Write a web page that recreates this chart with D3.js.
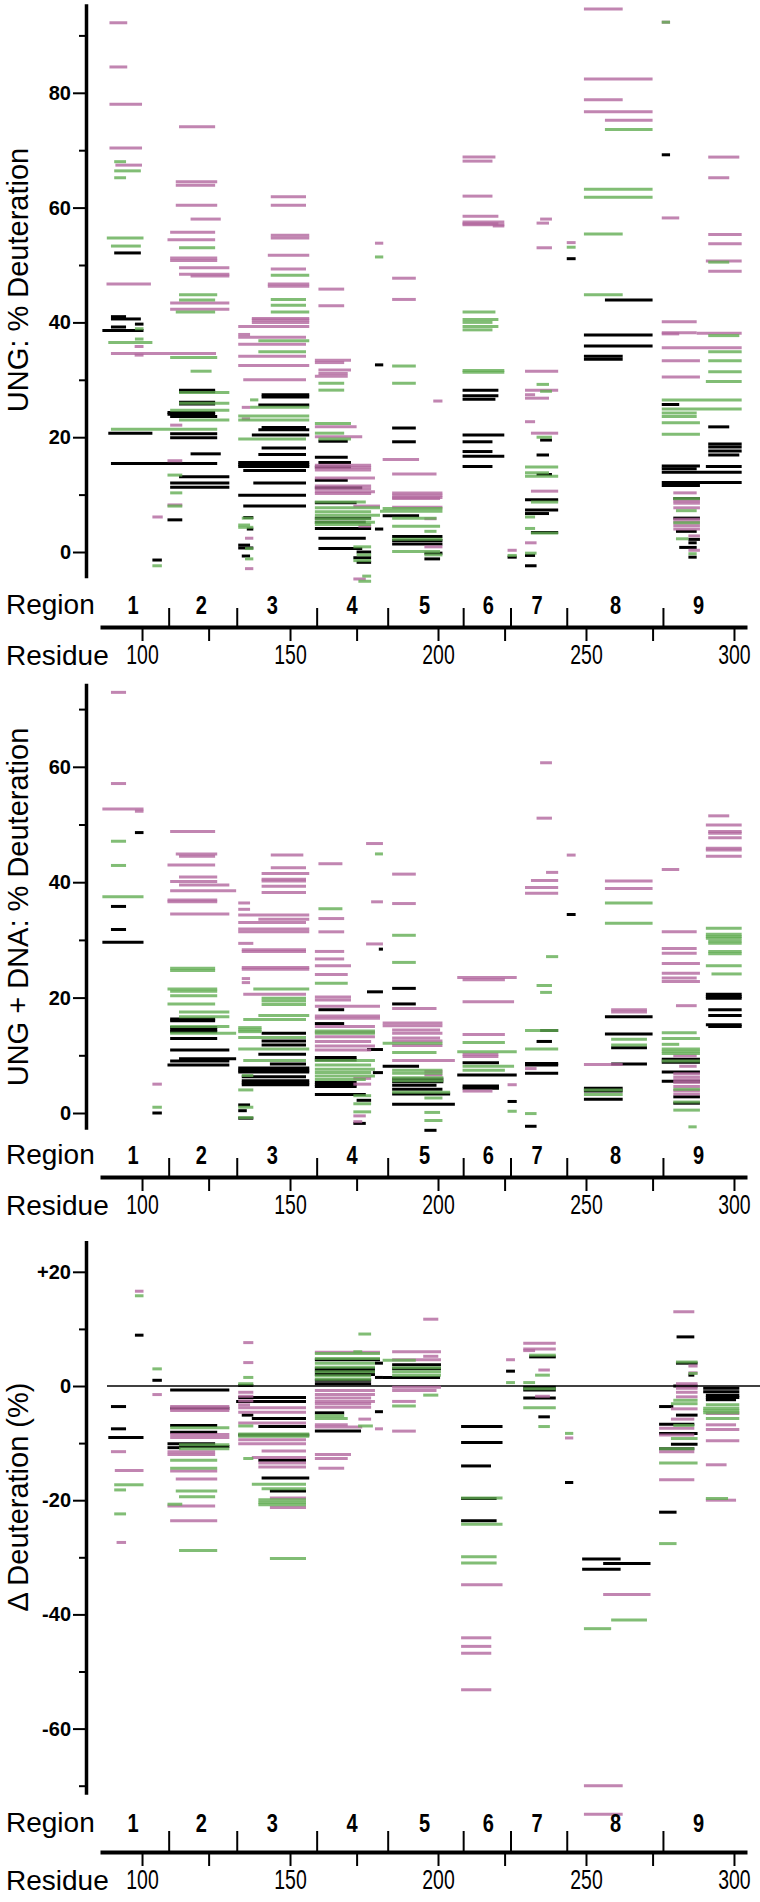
<!DOCTYPE html>
<html><head><meta charset="utf-8">
<script src="https://cdn.jsdelivr.net/npm/d3@7"></script>
<style>body{margin:0;background:#fff}</style>
</head><body>
<svg id="c" width="760" height="1902" xmlns="http://www.w3.org/2000/svg"></svg>
<script>
// ---------- data ----------
const regionNames = ["1","2","3","4","5","6","7","8","9"];
const regionLabelPos = [97,120,144,171,195.5,217,233.5,260,288];
const regionBounds = [109,132,159,183,208.5,224.5,243.5,276];
const residueMajor = [100,150,200,250,300];
const residueMinor = [122.5,172.5,222.5,272.5];

const ungYMajor = [0,20,40,60,80];
const ungYMinor = [10,30,50,70,90];
const dnaYMajor = [0,20,40,60];
const dnaYMinor = [10,30,50,70];
const diffYMajor = [20,0,-20,-40,-60];
const diffYMinor = [10,-10,-30,-50,-70];
const diffYLabels = ["+20","0","-20","-40","-60"];

// [start residue, end residue, value]
const ungPink = [
[89,95,92.2],[89,95,84.5],[89,100,78],[89,100,70.4],[91,100,67.4],[88,103,46.7],[89.5,125,34.6],[97.5,100.5,35.8],[97.5,100.5,34.3],[103.5,107,6.1],
[112.5,124.7,74.1],[111.4,125.4,64.5],[111.4,124.7,63.9],[111.4,125.4,60.4],[116.4,126.6,58],[109.5,124.7,55.7],[108.6,124.7,54.4],[109.5,125.4,51.2],[109.5,125.4,50.8],[112.5,129.5,49.5],[112.5,129.5,48.4],[116.4,129.5,48.1],[109.5,129.5,43.4],[109.5,129.5,42.3],[109.5,113.6,22.1],[108.6,113.6,15.9],[108.6,113.6,8.2],
[143.5,155.4,61.9],[143.5,155.4,60.4],[143.5,156.5,55.2],[143.5,156.5,54.7],[142.5,156.5,51.7],[143.5,155.4,49.3],[142.5,156.5,46.7],[142.5,156.5,46.3],[137.1,156.5,40.7],[137.1,156.5,40.4],[137.1,156.5,40.0],[132.5,156.5,39.3],[132.5,136.5,37.9],[132.5,155.4,37.4],[132.5,155.4,36.2],[132.5,155.4,34.1],[132.5,156.5,32.5],[134.2,155.4,30.0],[133.7,136.5,25.2],[133.7,136.5,23.2],[134.8,137.6,2.4],[134.8,137.6,-2.9],
[159.6,168.3,45.8],[159.6,168.3,42.9],[178.7,181.5,53.8],[158.4,170.6,33.4],[158.4,168.3,33.0],[159.6,170.6,31.7],[159.6,169.5,31.1],[158.4,169.5,30.6],[158.4,172.5,21.8],[158.4,174.4,20.1],[158.4,177.4,15.1],[158.4,177.4,14.7],[158.4,177.4,14.3],[158.4,178.7,12.9],[158.4,177.4,11.5],[158.4,177.4,11.0],[158.4,178.7,10.5],[158.4,177.4,10.2],[171.4,180.4,8.0],[173.1,177.4,4.5],[171.4,175.6,-4.7],
[184.5,192.5,47.7],[184.5,192.5,44.0],[198.4,201.5,26.3],[181.3,193.6,16.1],[184.5,199.5,13.6],[184.5,201.5,10.3],[184.5,201.5,9.9],[184.5,201.5,9.5],[184.5,200.7,9.3],[184.5,201.5,7.8],[195.4,199.5,5.8],[195.4,201.5,0.9],
[208.3,219.4,68.8],[208.3,218.4,68.1],[208.3,218.4,62.0],[208.3,220.4,58.5],[208.3,222.4,57.5],[208.3,220.4,57.2],[208.3,222.4,57.0],[218.5,222.4,56.8],[223.5,226.6,0.3],
[234.5,238.5,58.0],[233.3,237.5,57.3],[233.3,238.5,53.0],[243.5,246.5,53.9],[229.4,240.6,31.5],[229.4,240.6,28.2],[229.4,232.8,27.4],[229.4,237.5,26.8],[229.4,232.8,22.7],[231.4,240.6,20.7],[231.4,240.6,10.6],[229.4,233.3,1.6],
[249.3,262.4,94.6],[249.3,272.5,82.4],[249.3,262.4,78.8],[249.3,272.5,76.7],[256.4,272.5,75.2],
[275.6,278.4,92.3],[275.6,281.5,58.2],[291.3,301.8,68.8],[291.3,298.4,65.2],[291.3,302.6,55.3],[291.3,302.6,53.7],[290.5,302.6,50.7],[291.3,302.6,48.9],[275.6,287.4,40.1],[275.6,287.4,38.2],[275.6,281.5,38.0],[287.4,302.6,38.1],[275.6,302.6,35.6],[275.6,288.5,33.3],[275.6,288.5,30.5],[279.5,287.4,10.3],[279.5,288.5,8.9],[279.5,288.5,8.5],[279.5,288.5,7.7],[279.5,288.5,5.7],[279.5,288.5,5.2],[279.5,288.5,4.6],[279.5,288.5,4.0],[284.6,288.5,2.8],[284.6,288.5,0.3]
];
const ungGreen = [
[90.6,94.6,68.0],[90.6,99.6,66.4],[90.6,94.6,65.2],[88.1,100.5,54.7],[89.5,99.6,53.3],[97.6,100.5,38.9],[97.6,100.5,37.1],[88.6,103.5,36.5],[89.5,125.4,21.4],[103.5,106.7,-2.4],
[112.5,124.7,53.0],[112.5,125.4,44.8],[112.5,124.7,43.9],[111.4,124.7,41.8],[109.5,125.4,33.9],[116.4,123.5,31.5],[112.5,129.5,27.8],[112.5,129.5,25.9],[109.5,129.5,24.7],[112.5,129.5,23.0],[108.6,113.6,13.4],[109.5,113.6,10.3],[108.6,113.6,8.0],
[143.5,156.5,48.2],[143.5,155.4,44.0],[143.5,155.4,43.0],[143.5,156.5,41.8],[139.3,156.5,36.8],[139.3,155.4,34.9],[136.5,139.3,26.5],[136.5,156.5,25.2],[132.5,156.5,23.7],[132.5,156.5,23.0],[132.5,155.4,19.7],[133.7,137.6,5.9],[132.5,136.5,4.7],[132.5,137.6,4.3],[134.8,137.6,0.6],[134.8,137.6,-1.2],
[178.7,181.5,51.4],[159.6,168.3,29.4],[159.6,168.3,28.2],[158.4,170.6,22.4],[158.4,168.3,20.7],[159.6,170.6,19.7],[158.4,175.6,8.7],[158.4,180.4,7.7],[158.4,177.4,7.0],[158.4,180.4,6.4],[158.4,177.4,5.8],[158.4,178.7,5.2],[158.4,177.4,4.8],[171.4,177.4,0.9],[172.5,177.4,-0.5],[171.4,177.4,-1.5],[174.4,177.4,-4.2],[173.1,177.4,-5.1],
[184.5,192.5,32.4],[184.5,192.5,29.4],[181.3,201.5,7.6],[180.4,201.5,7.1],[184.5,199.5,5.9],[184.5,200.7,4.5],[195.4,199.5,3.6],[184.5,201.5,2.2],[184.5,200.7,0.1],[195.4,201.5,-0.5],
[208.3,219.4,41.8],[208.3,220.4,40.5],[208.3,218.4,40.0],[208.3,220.4,39.3],[208.3,218.4,38.7],[208.3,222.4,31.6],[208.3,222.4,31.3],[223.5,226.6,-0.6],
[233.3,237.5,29.2],[234.5,238.5,28.0],[233.3,238.5,20.0],[229.4,240.6,14.8],[229.4,237.5,13.8],[229.4,240.6,13.2],[231.4,240.6,8.7],[229.4,232.8,6.1],[229.4,232.8,4.1],[231.4,240.6,3.3],[229.4,233.3,-0.2],[243.5,246.5,53.1],
[256.4,272.5,73.6],[249.3,272.5,63.2],[249.3,272.5,61.8],[249.3,262.4,55.4],[249.3,262.4,44.8],
[275.6,278.4,92.3],[291.3,298.4,50.5],[291.3,301.8,37.7],[291.3,302.6,34.9],[291.3,302.6,33.3],[291.3,302.6,31.4],[290.5,302.6,29.7],[275.6,302.6,26.5],[275.6,302.6,24.9],[275.6,287.4,24.2],[275.6,287.4,23.6],[275.6,288.5,22.5],[275.6,288.5,20.5],[280.4,287.4,7.2],[279.5,288.5,5.1],[280.4,284.6,2.3],[284.6,287.4,-0.3],[279.5,288.5,9.3]
];
const ungBlack = [
[90.6,99.6,52.1],[89.5,94.6,41.0],[89.5,99.6,40.6],[89.5,94.6,39.2],[97.6,100.5,39.7],[86.6,100.5,38.6],[88.6,103.5,20.7],[89.5,125.4,15.4],[103.5,106.7,-1.4],
[112.5,124.7,28.2],[112.5,124.7,27.9],[112.5,124.7,26.1],[112.5,124.7,25.8],[108.6,124.7,24.3],[108.6,124.7,24.0],[109.5,125.4,23.6],[109.5,125.4,20.6],[109.5,125.4,19.9],[116.4,126.6,17.1],[112.5,129.5,13.1],[109.5,129.5,12.0],[109.5,129.5,11.3],[108.6,113.6,5.6],
[140.4,156.5,27.4],[140.4,156.5,27.0],[139.3,156.5,25.6],[140.4,155.4,21.7],[139.3,156.5,21.3],[137.1,156.5,20.4],[140.4,155.4,18.1],[139.3,155.4,17.0],[132.5,156.5,15.6],[132.5,156.5,15.2],[132.5,156.5,14.9],[134.2,155.4,14.2],[137.6,155.4,12.0],[132.5,155.4,9.9],[134.2,155.4,8.0],[134.2,137.6,6.0],[135.4,137.6,4.0],[132.5,136.5,1.2],[132.5,137.6,0.7],[133.7,136.5,-0.7],
[159.6,169.5,19.3],[158.4,169.5,16.5],[159.6,170.6,15.6],[158.4,170.6,14.8],[158.4,169.5,12.5],[158.4,174.4,11.2],[158.4,172.5,8.6],[158.4,177.4,5.9],[158.4,175.6,5.2],[158.4,177.4,4.1],[159.6,175.6,2.4],[159.6,174.4,0.6],[172.5,177.4,0.0],[171.4,177.4,-1.0],[172.5,177.4,-1.8],[178.7,181.5,32.6],[178.7,181.5,4.0],
[184.5,192.5,21.6],[184.5,192.5,19.2],[181.3,193.6,6.3],[184.5,201.5,2.7],[184.5,201.5,2.0],[184.5,201.5,1.4],[195.4,201.5,-0.2],[195.4,200.7,-1.2],
[208.3,220.4,28.2],[208.3,220.4,27.2],[208.3,219.4,26.6],[208.3,222.4,20.4],[208.3,218.4,19.2],[208.3,218.4,17.5],[208.3,222.4,16.7],[208.3,218.4,14.9],[223.5,226.6,-0.9],
[234.5,238.5,19.5],[233.3,237.5,16.9],[233.3,238.5,13.5],[229.4,240.6,9.1],[229.4,240.6,7.3],[229.4,237.5,6.7],[231.4,240.6,3.4],[229.4,232.8,-0.6],[229.4,233.3,-2.4],[243.5,246.5,51.1],
[256.4,272.5,43.9],[249.3,272.5,37.8],[249.3,272.5,35.9],[249.3,262.4,34.1],[249.3,262.4,33.6],
[275.6,278.4,69.2],[275.6,281.5,25.7],[291.3,298.4,21.8],[291.3,302.6,18.8],[291.3,302.6,18.3],[291.3,302.6,17.6],[291.3,301.8,16.9],[275.6,288.5,15.0],[290.5,302.6,14.9],[275.6,287.4,14.5],[275.6,302.6,13.9],[275.6,302.6,12.1],[275.6,288.5,11.6],[279.5,288.5,9.3],[279.5,288.5,5.9],[280.4,287.4,3.6],[284.6,288.5,2.2],[284.6,287.4,1.6],[281.5,287.4,0.8],[284.6,287.4,-0.9]
];

const dnaPink = [
[89.5,94.6,72.9],[89.5,94.6,57.1],[86.6,100.5,52.7],[97.6,100.5,52.3],[103.5,106.7,5.0],
[109.5,124.7,48.8],[111.4,125.4,44.9],[112.5,124.7,44.5],[108.6,124.7,43.0],[112.5,125.4,40.9],[109.5,125.4,40.1],[112.5,129.5,39.5],[109.5,131.8,38.5],[108.6,125.4,36.9],[108.6,125.4,36.6],[109.5,129.5,34.5],
[143.5,154.5,44.7],[143.5,155.4,42.5],[140.4,156.5,41.5],[140.4,155.4,40.5],[140.4,155.4,40.2],[140.4,155.4,39.3],[140.4,155.4,38.2],[132.5,136.5,36.4],[132.5,136.5,35.3],[132.5,156.5,34.3],[139.3,156.5,33.6],[132.5,155.4,33.0],[132.5,156.5,31.9],[132.5,156.5,31.4],[132.5,137.6,29.4],[133.7,155.4,28.3],[133.7,155.4,28.0],[133.7,156.5,25.2],[133.7,156.5,24.9],[133.7,136.5,23.3],[133.7,136.5,22.6],[134.2,155.4,20.6],
[159.6,167.7,43.2],[159.6,168.3,33.7],[159.6,168.3,31.4],[158.4,168.3,28.0],[158.4,168.3,26.7],[158.4,170.6,25.5],[158.4,169.5,24.0],[158.4,170.6,20.1],[158.4,170.6,19.6],[158.4,180.4,18.5],[158.4,180.4,16.8],[158.4,180.4,16.4],[158.4,178.7,15.0],[158.4,178.7,14.0],[158.4,178.7,13.2],[158.4,177.4,12.4],[158.4,178.7,11.6],[158.4,177.4,10.9],[175.7,181.4,46.7],[177.4,181.4,36.6],[175.7,181.4,29.3],[171.4,177.4,6.0],[171.4,177.4,5.0],[171.4,175.6,-0.5],[171.4,174.4,-1.5],
[184.5,192.5,41.4],[184.5,192.5,36.3],[184.5,199.5,18.1],[181.3,201.5,15.6],[181.3,201.5,15.1],[184.5,200.7,14.4],[184.5,201.5,13.8],[184.5,200.7,13.0],[184.5,201.5,12.5],[184.5,201.5,11.7],[184.5,205.7,9.1],[195.4,201.5,7.2],[195.4,201.5,6.6],
[206.5,226.6,23.5],[208.3,222.6,23.1],[208.3,225.7,19.3],[208.3,222.6,13.6],[208.3,220.4,10.2],[208.3,220.4,9.8],[208.3,218.4,3.8],[223.5,226.6,4.9],
[234.5,238.5,60.7],[233.3,238.5,51.1],[236.5,240.6,41.7],[231.4,240.6,40.3],[229.4,240.6,39.1],[229.4,240.6,38.1],[229.4,233.3,7.7],[243.5,246.5,44.7],
[256.4,272.5,40.2],[256.4,272.5,38.9],[258.5,270.6,17.9],[258.5,270.6,17.5],[249.3,262.4,8.4],
[275.6,281.5,42.2],[275.6,287.4,31.4],[275.6,287.4,28.5],[275.6,287.4,27.7],[275.6,288.5,25.9],[275.6,288.5,24.2],[275.6,287.4,23.4],[275.6,288.5,22.8],[280.4,287.4,18.6],[279.5,287.4,9.9],[281.5,287.4,8.1],[279.5,288.5,6.8],[279.5,288.5,6.2],[279.5,288.5,5.7],[279.5,288.5,5.3],[279.5,288.5,4.6],[279.5,288.5,3.9],[279.5,288.5,3.3],
[291.3,298.4,51.5],[290.5,302.6,49.9],[291.3,302.6,48.8],[291.3,302.6,48.5],[291.3,302.6,47.7],[290.5,302.6,45.9],[290.5,302.6,45.6],[290.5,302.6,44.5]
];
const dnaGreen = [
[89.5,94.6,47.1],[89.5,94.6,42.9],[86.6,100.5,37.5],[103.5,106.7,1.0],
[109.5,124.7,25.1],[109.5,124.7,24.7],[108.6,125.4,21.5],[109.5,125.4,21.1],[109.5,125.4,20.3],[108.6,124.7,18.9],[112.5,129.5,17.5],[112.5,129.5,16.7],[109.5,129.5,15.0],[109.5,131.8,13.8],
[137.6,156.5,21.5],[140.4,155.4,19.9],[140.4,155.4,19.4],[140.4,155.4,18.8],[139.3,156.5,16.9],[134.2,155.4,16.2],[132.5,140.4,14.8],[132.5,140.4,14.4],[132.5,140.4,14.1],[132.5,155.4,13.1],[132.5,156.5,11.1],[134.2,155.4,9.1],[133.7,137.6,6.5],[132.5,137.6,4.0],[132.5,137.6,1.0],[132.5,137.6,-0.8],
[158.4,169.5,22.5],[158.4,178.7,14.2],[158.4,178.7,13.8],[158.4,178.7,9.1],[158.4,177.4,8.3],[158.4,178.7,7.6],[158.4,177.4,7.0],[158.4,178.7,6.4],[158.4,175.6,5.8],[159.6,167.7,35.4],[178.7,181.4,44.9],[171.4,177.4,3.0],[171.4,177.4,1.6],[171.4,177.4,0.2],
[184.5,192.5,30.8],[184.5,192.5,26.1],[181.3,201.5,12.1],[184.5,199.5,10.5],[184.5,201.5,7.4],[184.5,201.5,6.9],[184.5,201.8,6.1],[184.5,201.8,5.6],[184.5,204.1,3.6],[195.4,201.5,2.6],[195.4,200.7,0.1],[195.4,201.5,-1.3],
[208.3,222.6,12.2],[206.5,226.6,10.6],[208.3,225.7,8.1],[208.3,222.6,7.4],[223.5,226.6,0.3],
[236.5,240.6,27.1],[233.3,238.5,22.1],[234.5,238.5,20.9],[229.4,240.6,14.3],[229.4,240.6,11.1],[229.4,233.3,-0.1],
[256.4,272.5,36.4],[256.4,272.5,32.9],[258.5,270.6,12.8],[258.5,270.6,11.8],[249.3,262.4,3.2],[249.3,262.4,4.0],
[275.6,287.4,13.9],[275.6,288.5,12.9],[275.6,281.5,11.9],[275.6,288.5,11.1],[275.6,288.5,10.7],[275.6,288.5,10.3],[275.6,288.5,9.0],[279.5,288.5,4.1],[279.5,288.5,1.9],[279.5,288.5,0.5],[284.6,287.4,-2.4],
[290.5,302.6,32.0],[290.5,302.6,31.0],[290.5,302.6,30.6],[290.5,302.6,30.3],[291.3,302.6,29.8],[291.3,302.6,29.4],[291.3,302.6,28.0],[291.3,302.6,27.6],[290.5,302.6,25.5],[292.4,302.6,24.1]
];
const dnaBlack = [
[97.6,100.5,48.6],[89.5,94.6,35.8],[89.5,94.6,31.8],[86.6,100.5,29.6],[103.5,106.7,0.0],
[109.5,124.7,16.3],[109.5,124.7,16.0],[109.5,125.4,14.8],[109.5,125.4,14.4],[109.5,125.4,14.1],[109.5,125.4,12.9],[109.5,129.5,10.9],[112.5,131.8,9.4],[109.5,129.5,9.0],[108.6,129.5,8.3],
[140.4,155.4,13.8],[140.4,155.4,12.5],[140.4,155.4,11.8],[139.3,155.4,10.2],[143.2,155.4,8.5],[132.5,156.5,7.8],[132.5,156.5,7.4],[132.5,156.5,7.1],[133.7,155.4,6.3],[133.7,156.5,5.6],[133.7,156.5,5.2],[133.7,156.5,4.9],[132.5,136.5,1.4],[132.5,135.4,0.4],[132.5,137.6,-0.9],
[159.6,168.3,17.9],[158.4,168.3,15.5],[158.4,172.5,9.6],[158.4,172.5,9.2],[158.4,172.5,5.3],[158.4,172.5,4.9],[158.4,172.5,4.6],[158.4,175.6,3.2],[172.5,177.4,2.2],[171.4,175.6,-1.8],[180,181.4,28.4],[176,181.4,21.0],[176,181.4,11.0],[178,181.4,7.0],
[184.5,192.5,21.6],[184.5,192.5,18.9],[181.3,193.6,8.1],[184.5,201.8,5.9],[184.5,201.8,5.4],[184.5,199.5,4.8],[184.5,201.5,4.1],[184.5,204.1,3.3],[184.5,205.7,1.5],[195.4,199.5,-3.0],
[208.3,220.6,8.7],[206.5,226.6,6.6],[208.3,220.6,4.7],[208.3,220.6,4.3],[223.5,226.6,2.0],
[234.5,240.6,14.3],[233.3,238.5,12.4],[229.4,240.6,8.6],[229.4,240.6,8.3],[229.4,240.6,6.9],[229.4,233.3,-2.3],[243.5,246.5,34.4],
[256.4,272.5,16.7],[256.4,272.5,13.7],[258.5,270.6,11.3],[258.5,270.6,8.5],[249.3,262.4,4.3],[249.3,262.4,3.8],[249.3,262.4,2.4],
[275.6,288.5,9.3],[275.6,288.5,8.8],[275.6,288.5,7.1],[275.6,288.5,5.5],[279.5,288.5,2.8],[279.5,288.5,1.7],
[290.5,302.6,20.6],[290.5,302.6,20.2],[290.5,302.6,19.9],[291.3,302.6,17.9],[291.3,302.6,16.9],[290.5,302.6,15.3],[291.3,302.6,15.0]
];

const diffPink = [
[97.6,100.5,16.6],[103.5,106.7,-1.5],[89.5,94.6,-11.5],[90.8,100.5,-14.8],[91.4,94.6,-27.4],
[109.5,129.5,-3.6],[109.5,129.5,-4.0],[109.5,129.5,-4.3],[109.5,129.5,-8.5],[109.5,129.5,-9.0],[108.6,124.7,-11.5],[108.6,124.7,-12.0],[109.5,125.4,-14.9],[111.4,125.4,-16.3],[108.6,124.7,-21.0],[109.5,125.4,-23.6],
[134.2,137.6,7.6],[134.2,137.6,4.1],[132.5,137.6,-1.1],[132.5,137.6,-1.8],[132.5,137.6,-2.6],[132.5,136.5,-3.3],[132.5,155.4,-3.8],[132.5,155.4,-4.6],[132.5,155.4,-6.5],[132.5,155.4,-9.4],[132.5,155.4,-10.1],[140.4,155.4,-11.4],[137.1,155.4,-12.5],[139.3,155.4,-13.5],[139.3,155.4,-14.2],[143.2,155.4,-19.6],[143.2,155.4,-21.3],
[158.4,180.4,5.9],[158.4,178.7,-0.8],[158.4,178.7,-1.5],[158.4,177.4,-2.1],[158.4,178.7,-2.7],[158.4,177.4,-3.1],[158.4,177.4,-3.7],[158.4,169.5,-6.8],[158.4,174.4,-7.2],[173.1,177.4,-5.8],[158.4,170.6,-12.0],[158.4,169.5,-12.7],[159.6,168.3,-14.4],[178.7,181.4,-7.5],
[195.0,200.1,11.7],[184.5,201.0,6.0],[184.5,201.0,4.6],[195.0,200.1,5.2],[184.5,201.0,-0.2],[184.5,199.5,-0.8],[184.5,192.5,-2.7],[184.5,192.5,-7.9],
[207.8,221.8,-34.8],[207.8,218,-44.1],[207.8,218,-45.6],[207.8,218,-46.8],[207.8,218,-53.2],
[223.0,226.0,4.6],[228.8,239.8,7.5],[228.8,239.8,6.5],[228.8,232.8,6.2],[233.9,237.8,2.8],[232.8,237.8,-1.8],[242.9,245.7,-9.1],
[255.8,271.8,-36.5],[249.3,262.4,-70.0],[249.3,262.4,-75.0],
[279.5,286.6,13.0],[284.6,287.7,3.5],[284.6,287.7,2.3],[280.4,287.7,0.4],[280.4,287.7,-0.4],[280.4,287.7,-1.1],[280.4,287.7,-1.9],[278.7,287.7,-4.0],[278.7,286.6,-5.8],[274.7,286.6,-7.4],[274.7,286.6,-8.6],[274.7,286.6,-11.5],[274.7,286.6,-16.4],
[290.5,301.8,-4.8],[290.5,300.7,-6.8],[290.5,301.8,-7.6],[290.5,301.8,-9.6],[290.5,297.5,-13.8],[290.5,300.7,-20.0]
];
const diffGreen = [
[97.6,100.5,15.8],[103.5,106.7,3.0],[90.6,100.5,-17.3],[90.6,94.6,-18.2],[90.6,94.6,-22.4],
[109.5,129.5,-7.3],[112.5,129.5,-10.3],[112.5,129.5,-11.0],[109.5,125.4,-13.0],[109.5,125.4,-14.4],[111.4,125.4,-18.4],[112.5,124.7,-19.4],[108.6,113.6,-20.7],[112.5,125.4,-28.8],
[134.2,137.6,1.5],[132.5,137.6,0.4],[132.5,137.6,-7.0],[132.5,156.5,-8.4],[132.5,156.5,-8.8],[134.2,137.6,-12.7],[137.1,155.4,-17.2],[140.4,155.4,-18.0],[139.3,155.4,-19.9],[139.3,155.4,-20.4],[139.3,155.4,-20.8],[143.2,155.4,-30.2],
[158.4,180.4,5.7],[173.1,177.4,9.1],[171.4,174.4,6.0],[158.4,180.4,4.8],[158.4,178.7,4.0],[158.4,178.7,3.3],[158.4,178.7,2.5],[158.4,177.4,1.8],[158.4,177.4,1.2],[158.4,169.5,-5.7],[158.4,168.3,-5.2],[173,178,-7.0],
[181.3,192.5,4.5],[184.5,201.0,3.2],[184.5,201.0,2.5],[184.5,201.0,1.9],[195.0,200.1,-1.6],[184.5,192.5,-3.5],
[207.8,221.8,-19.6],[207.8,221.8,-24.2],[207.8,219.8,-29.9],[207.8,219.8,-31.0],
[223.0,226.0,0.6],[230.8,239.8,5.4],[232.8,237.8,1.9],[228.8,232.8,0.6],[228.8,239.8,-0.5],[228.8,239.8,-3.8],[233.9,237.8,-7.1],[242.9,245.7,-8.3],
[258.5,270.6,-41.0],[249.3,258.5,-42.5],
[280.4,287.7,4.2],[284.6,287.7,2.2],[279.5,287.7,-2.5],[278.7,287.7,-3.1],[279.5,286.6,-6.9],[278.7,287.7,-9.2],[274.7,286.6,-11.0],[274.7,287.7,-13.5],[274.7,280.6,-27.6],
[290.5,301.8,-3.3],[289.6,301.8,-3.9],[289.6,301.8,-4.3],[289.6,301.8,-4.7],[290.5,301.8,-5.7],[290.5,298,-19.7]
];
const diffBlack = [
[97.6,100.5,8.9],[103.5,106.7,1.0],[89.5,94.6,-3.6],[89.5,94.6,-7.5],[88.6,100.5,-9.0],
[109.5,129.5,-0.7],[109.5,129.5,-3.9],[109.5,125.4,-6.9],[109.5,125.4,-8.1],[108.6,124.7,-10.1],[108.6,113,-10.8],[112.5,129.5,-10.6],
[132.5,137.6,0.1],[132.5,155.4,-2.0],[131.8,155.4,-2.7],[133.7,137.6,-5.1],[137.1,155.4,-5.7],[139.3,155.4,-7.1],[132.5,156.5,-8.6],[139.3,155.4,-13.0],[140.4,156.5,-16.1],[143.2,155.4,-18.4],
[158.4,180.4,4.6],[158.4,178.7,3.0],[158.4,178.7,2.6],[158.4,178.7,2.0],[158.4,177.4,1.0],[158.4,177.4,0.4],[158.4,168.3,-4.7],[158.4,174.0,-7.9],[178.7,181.4,4.0],[178.7,181.4,1.5],[178.7,181.4,-4.5],
[184.5,201.0,3.7],[184.5,201.0,3.0],[181.3,200.7,1.5],
[207.8,221.8,-7.1],[207.8,221.8,-9.9],[207.8,217.9,-14.0],[207.8,219.8,-19.7],[207.8,219.8,-23.6],
[223.0,226.0,2.6],[230.8,239.8,5.1],[228.8,239.8,-0.2],[228.8,239.8,-0.7],[228.8,239.8,-2.1],[233.9,237.8,-5.4],[242.9,245.7,-16.9],
[248.7,261.7,-30.3],[255.8,271.8,-31.1],[248.7,261.7,-32.1],
[280.6,286.6,8.6],[280.4,287.7,4.0],[284.6,286.6,1.9],[279.5,287.7,0.0],[274.7,279.5,-3.6],[280.4,287.7,-5.1],[274.7,286.6,-6.7],[274.7,287.7,-8.3],[278.7,287.7,-10.2],[274.7,286.6,-11.0],[274.7,280.6,-22.1],
[289.6,301.8,-0.4],[289.6,301.8,-1.0],[290.5,301.8,-1.6],[290.5,301.8,-2.0],[290.5,300.7,-2.4]
];

// ---------- drawing ----------
const svg = d3.select("#c");
svg.append("rect").attr("width",760).attr("height",1902).attr("fill","#fff");
const FONT = "'Liberation Sans', Arial, Helvetica, sans-serif";
const PINK = "#b2679e", GREEN = "#62ad52", BLACK = "#000";

const x = d3.scaleLinear().domain([85.8, 304.4]).range([100, 747]);

const panels = [
  {pink:ungPink, green:ungGreen, black:ungBlack, y0:552, ppu:5.74, ymin:-4.5, ymax:95.5,
   major:ungYMajor, minor:ungYMinor, labels:ungYMajor.map(String), axisY:627, regGap:13, regTick:19, resGap:38,
   title:"UNG: % Deuteration", titleY:280, zero:false},
  {pink:dnaPink, green:dnaGreen, black:dnaBlack, y0:1113, ppu:5.77, ymin:-2.8, ymax:74.5,
   major:dnaYMajor, minor:dnaYMinor, labels:dnaYMajor.map(String), axisY:1177, regGap:13, regTick:19, resGap:38,
   title:"UNG + DNA: % Deuteration", titleY:907, zero:false},
  {pink:diffPink, green:diffGreen, black:diffBlack, y0:1386, ppu:5.71, ymin:-71.5, ymax:25.5,
   major:diffYMajor, minor:diffYMinor, labels:diffYLabels, axisY:1852, regGap:20, regTick:21, resGap:38,
   title:"\u0394 Deuteration (%)", titleY:1497, zero:true}
];

panels.forEach(p => {
  const y = d3.scaleLinear().domain([p.ymin, p.ymax])
    .range([p.y0 - p.ymin*p.ppu, p.y0 - p.ymax*p.ppu]);
  const g = svg.append("g");

  if (p.zero) {
    g.append("line").attr("x1",107).attr("x2",760)
      .attr("y1",y(0)).attr("y2",y(0)).attr("stroke","#000").attr("stroke-width",1.5);
  }

  const seg = (data, color, op) => g.append("g").selectAll("line").data(data).join("line")
      .attr("x1", d => x(d[0])).attr("x2", d => x(d[1]))
      .attr("y1", d => y(d[2])).attr("y2", d => y(d[2]))
      .attr("stroke", color).attr("stroke-width", 3).attr("stroke-opacity", op);
  seg(p.black, BLACK, 1);
  seg(p.pink, PINK, 0.8);
  seg(p.green, GREEN, 0.8);

  const ax = g.append("g").attr("transform","translate(86,0)")
    .call(d3.axisLeft(y).tickValues(p.major).tickSize(13).tickSizeOuter(0).tickPadding(2)
      .tickFormat((d,i) => p.labels[i]));
  ax.select(".domain").attr("stroke-width",3.5);
  ax.selectAll(".tick line").attr("stroke-width",2);
  ax.selectAll("text").attr("font-family",FONT).attr("font-size",20).attr("font-weight","bold").attr("fill","#000");
  const axm = g.append("g").attr("transform","translate(86,0)")
    .call(d3.axisLeft(y).tickValues(p.minor).tickSize(7).tickFormat(""));
  axm.select(".domain").remove();
  axm.selectAll(".tick line").attr("stroke-width",2);

  g.append("text").attr("transform",`translate(28,${p.titleY}) rotate(-90)`)
    .attr("text-anchor","middle").attr("font-family",FONT).attr("font-size",29)
    .attr("fill","#000").text(p.title);

  const xb = g.append("g").attr("transform",`translate(0,${p.axisY})`)
    .call(d3.axisBottom(x).tickValues(residueMajor).tickSize(14).tickSizeOuter(0).tickPadding(4).tickFormat(d3.format("d")));
  xb.select(".domain").attr("stroke-width",4);
  xb.selectAll(".tick line").attr("stroke-width",2);
  xb.selectAll("text").attr("font-family",FONT).attr("font-size",27).attr("fill","#000")
    .attr("transform","scale(0.72,1)");
  const xm = g.append("g").attr("transform",`translate(0,${p.axisY})`)
    .call(d3.axisBottom(x).tickValues(residueMinor).tickSize(14).tickFormat(""));
  xm.select(".domain").remove();
  xm.selectAll(".tick line").attr("stroke-width",2);

  const xr = g.append("g").attr("transform",`translate(0,${p.axisY})`)
    .call(d3.axisTop(x).tickValues(regionBounds).tickSize(p.regTick).tickFormat(""));
  xr.select(".domain").remove();
  xr.selectAll(".tick line").attr("stroke-width",2);

  g.append("g").selectAll("text").data(regionNames).join("text")
    .attr("transform",(d,i)=>`translate(${x(regionLabelPos[i])},${p.axisY-p.regGap}) scale(0.8,1)`)
    .attr("text-anchor","middle").attr("font-family",FONT).attr("font-size",25)
    .attr("font-weight","bold").text(d=>d);

  g.append("text").attr("x",6).attr("y",p.axisY-p.regGap).attr("font-family",FONT)
    .attr("font-size",28).text("Region");
  g.append("text").attr("x",6).attr("y",p.axisY+p.resGap).attr("font-family",FONT)
    .attr("font-size",28).text("Residue");
});
</script>
</body></html>
